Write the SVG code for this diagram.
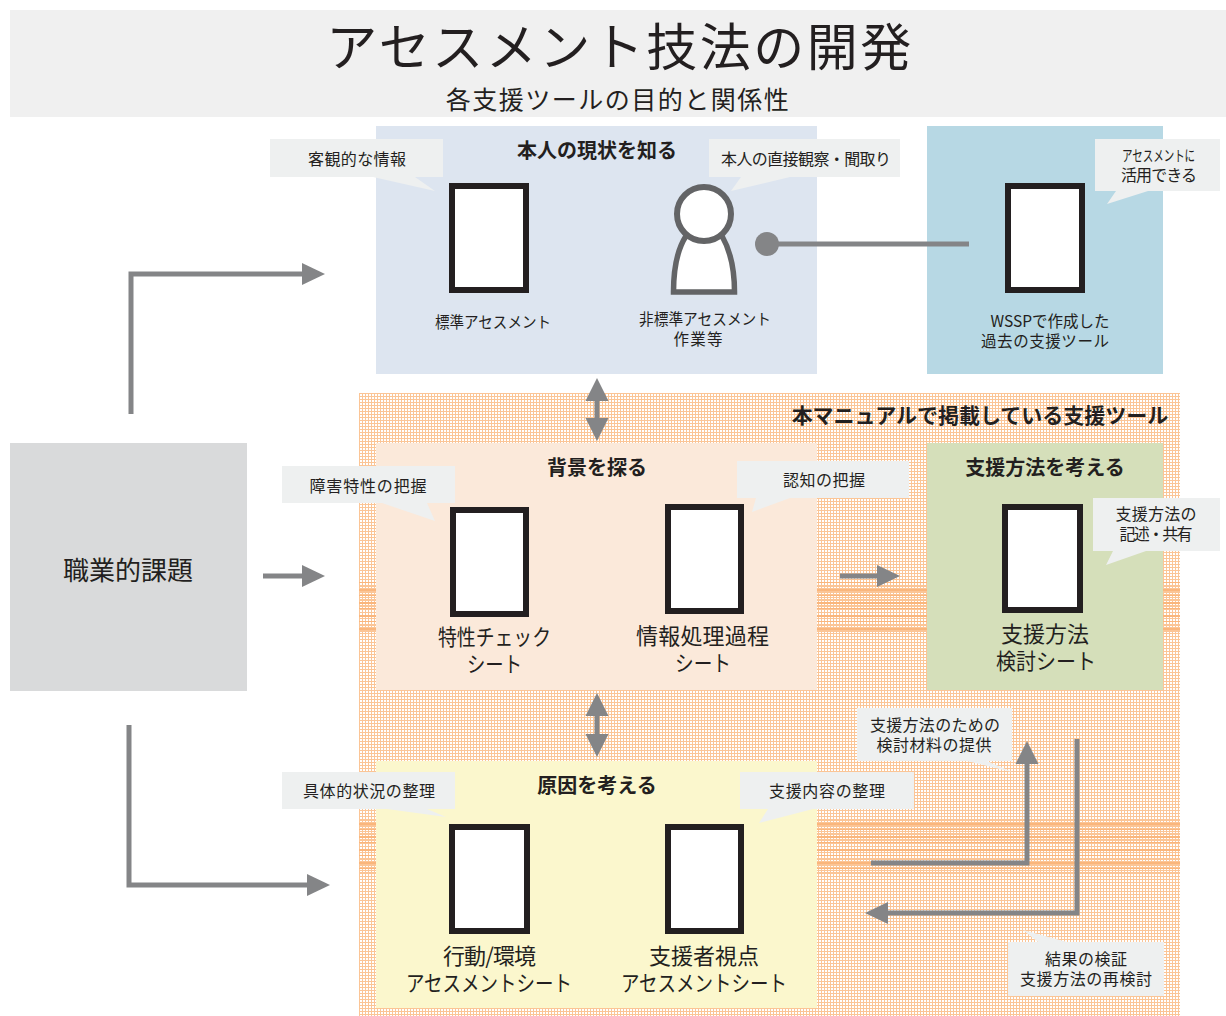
<svg xmlns="http://www.w3.org/2000/svg" width="1226" height="1016" viewBox="0 0 1226 1016">
<style>
text{font-family:"Noto Sans CJK JP","Liberation Sans",sans-serif;fill:#231f20;text-anchor:middle}
.ttl{font-size:51px;letter-spacing:2.5px}
.sub{font-size:25px;letter-spacing:1.5px}
.hd{font-size:20px;font-weight:700}
.cap{font-size:15.500px}
.big{font-size:22px}
.call{font-size:16px}
.bub{fill:#eef0f0}
.doc{fill:#fff;stroke:#231f20;stroke-width:6}
.ln{fill:none;stroke:#848587;stroke-width:5}
.ah{fill:#848587}
</style>
<defs>
<pattern id="dots" width="3" height="3" patternUnits="userSpaceOnUse" x="359" y="393">
<rect width="3" height="3" fill="#fbc596"/>
<rect x="1" y="1" width="2" height="2" fill="#fff"/>
</pattern>
<pattern id="lines" width="4" height="13" patternUnits="userSpaceOnUse" x="0" y="1">
<rect y="0" width="4" height="1" fill="#fbc596"/>
<rect y="3" width="4" height="2" fill="#fab67c"/>
<rect y="6" width="4" height="1" fill="#fbc596"/>
<rect y="9" width="4" height="1" fill="#fab67c"/>
</pattern>
</defs>
<rect width="1226" height="1016" fill="#fff"/>
<g id="title">
<rect x="10" y="10" width="1216" height="107" fill="#f0f0f0"/>
<text class="ttl" x="620" y="66">アセスメント技法の開発</text>
<text class="sub" x="618" y="109">各支援ツールの目的と関係性</text>
</g>
<g id="manual-region">
<rect x="359" y="393" width="821" height="623" fill="url(#dots)"/>
<rect x="359" y="580" width="821" height="53" fill="url(#lines)"/>
<rect x="359" y="820" width="821" height="53" fill="url(#lines)"/>
<text class="hd" x="980" y="423" style="font-size:21px">本マニュアルで掲載している支援ツール</text>
</g>
<g id="current">
<rect x="376" y="126" width="441" height="248" fill="#dde5f0"/>
<text class="hd" x="597" y="158">本人の現状を知る</text>
</g>
<g id="past-tools">
<rect x="927" y="126" width="236" height="248" fill="#b7d8e4"/>
<text class="cap" x="1050" y="327" textLength="119">WSSPで作成した</text>
<text class="cap" x="1045" y="347" textLength="128">過去の支援ツール</text>
</g>
<g id="background">
<rect x="376" y="443" width="441" height="247" fill="#fbe9da"/>
<text class="hd" x="597" y="475">背景を探る</text>
</g>
<g id="method">
<rect x="927" y="443" width="236" height="247" fill="#d5dfba"/>
<text class="hd" x="1045" y="475">支援方法を考える</text>
<text class="big" x="1045" y="642" textLength="88">支援方法</text>
<text class="big" x="1046" y="669" textLength="100" lengthAdjust="spacingAndGlyphs">検討シート</text>
</g>
<g id="cause">
<rect x="376" y="761" width="441" height="247" fill="#fbf7cd"/>
<text class="hd" x="597" y="793">原因を考える</text>
</g>
<g id="issue">
<rect x="10" y="443" width="237" height="248" fill="#d9dadb"/>
<text x="128" y="580" font-size="26">職業的課題</text>
</g>
<g id="connectors">
<path class="ln" d="M131 414V274H305"/>
<polygon class="ah" points="302,263 325,274 302,285"/>
<path class="ln" d="M263 576H305"/>
<polygon class="ah" points="302,565 325,576 302,587"/>
<path class="ln" d="M129 725V885H310"/>
<polygon class="ah" points="307,874 330,885 307,896"/>
<path class="ln" d="M597 395V425"/>
<polygon class="ah" points="597,378 585.500,401 608.500,401"/>
<polygon class="ah" points="597,441 585.500,418 608.500,418"/>
<path class="ln" d="M597 712V740"/>
<polygon class="ah" points="597,693 585.500,716 608.500,716"/>
<polygon class="ah" points="597,757 585.500,734 608.500,734"/>
<path class="ln" d="M840 576H880"/>
<polygon class="ah" points="877,565 900,576 877,587"/>
<path class="ln" d="M871 863H1027V760"/>
<polygon class="ah" points="1027,741 1015.500,764 1038.500,764"/>
<path class="ln" d="M1077 739V913H885"/>
<polygon class="ah" points="865,913 888,902 888,924"/>
<path class="ln" d="M767 244H969"/>
<circle class="ah" cx="767" cy="244" r="12"/>
</g>
<g id="doc-standard">
<path class="bub" d="M270 139H443V177H415L435 191L373 177H270Z"/>
<text class="call" x="357" y="165" textLength="98">客観的な情報</text>
<rect class="doc" x="452" y="186" width="74" height="104"/>
<text class="cap" x="493" y="328" textLength="116" lengthAdjust="spacingAndGlyphs">標準アセスメント</text>
</g>
<g id="person">
<path class="bub" d="M709 139H900V177H790L731 191L741 177H709Z"/>
<text class="call" x="806" y="165" textLength="170">本人の直接観察・聞取り</text>
<path d="M686 236C677 250 673.500 270 673.500 292H734.500C734.500 270 730 250 722 236Z" fill="#fff" stroke="#636466" stroke-width="5.500"/>
<circle cx="704" cy="214" r="27" fill="#fff" stroke="#636466" stroke-width="6"/>
<text class="cap" x="705" y="325" textLength="132" lengthAdjust="spacingAndGlyphs">非標準アセスメント</text>
<text class="cap" x="698" y="345" textLength="49">作業等</text>
</g>
<g id="doc-past">
<rect class="doc" x="1008" y="186" width="74" height="104"/>
<path class="bub" d="M1095 139H1220V191H1148L1107 204L1116 191H1095Z"/>
<text class="call" transform="translate(1158.500 161) scale(.7 1)" style="font-size:15px">アセスメントに</text>
<text class="call" x="1159" y="181" textLength="76">活用できる</text>
</g>
<g id="doc-trait">
<path class="bub" d="M282 466H455V503H427L435 521L382 503H282Z"/>
<text class="call" x="368" y="492" textLength="117">障害特性の把握</text>
<rect class="doc" x="453" y="510" width="73" height="104"/>
<text class="big" x="494.500" y="645" textLength="113" lengthAdjust="spacingAndGlyphs">特性チェック</text>
<text class="big" x="494.500" y="672" textLength="55" lengthAdjust="spacingAndGlyphs">シート</text>
</g>
<g id="doc-info">
<path class="bub" d="M737 461H909V498H790L752 512L756 498H737Z"/>
<text class="call" x="824" y="486" textLength="82">認知の把握</text>
<rect class="doc" x="668" y="507" width="73" height="104"/>
<text class="big" x="702.500" y="644" textLength="133">情報処理過程</text>
<text class="big" x="703" y="671" textLength="56" lengthAdjust="spacingAndGlyphs">シート</text>
</g>
<g id="doc-method">
<rect class="doc" x="1005" y="507" width="75" height="103"/>
<path class="bub" d="M1093 498H1220V551H1146L1106 565L1113 551H1093Z"/>
<text class="call" x="1156" y="520" textLength="81">支援方法の</text>
<text class="call" x="1156" y="540" textLength="73">記述・共有</text>
</g>
<g id="doc-behavior">
<path class="bub" d="M282 772H455V809H427L446 817L387 809H282Z"/>
<text class="call" x="369" y="797" textLength="132">具体的状況の整理</text>
<rect class="doc" x="452" y="827" width="75" height="104"/>
<text class="big" x="489.500" y="964" textLength="93">行動/環境</text>
<text class="big" x="489" y="991" textLength="166" lengthAdjust="spacingAndGlyphs">アセスメントシート</text>
</g>
<g id="doc-support">
<path class="bub" d="M740 772H914V809H813L759 823L768 809H740Z"/>
<text class="call" x="827" y="797" textLength="116">支援内容の整理</text>
<rect class="doc" x="668" y="827" width="73" height="104"/>
<text class="big" x="704" y="964" textLength="110">支援者視点</text>
<text class="big" x="704" y="991" textLength="166" lengthAdjust="spacingAndGlyphs">アセスメントシート</text>
</g>
<g id="note-material">
<path class="bub" d="M857 708H1012V761H987L1012 772L967 761H857Z"/>
<text class="call" x="935" y="731" textLength="130">支援方法のための</text>
<text class="call" x="934" y="751" textLength="115">検討材料の提供</text>
</g>
<g id="note-verify">
<path class="bub" d="M1008 942H1038L1023 930L1067 942H1164V996H1008Z"/>
<text class="call" x="1086" y="965" textLength="82">結果の検証</text>
<text class="call" x="1086" y="985" textLength="132">支援方法の再検討</text>
</g>
</svg>
